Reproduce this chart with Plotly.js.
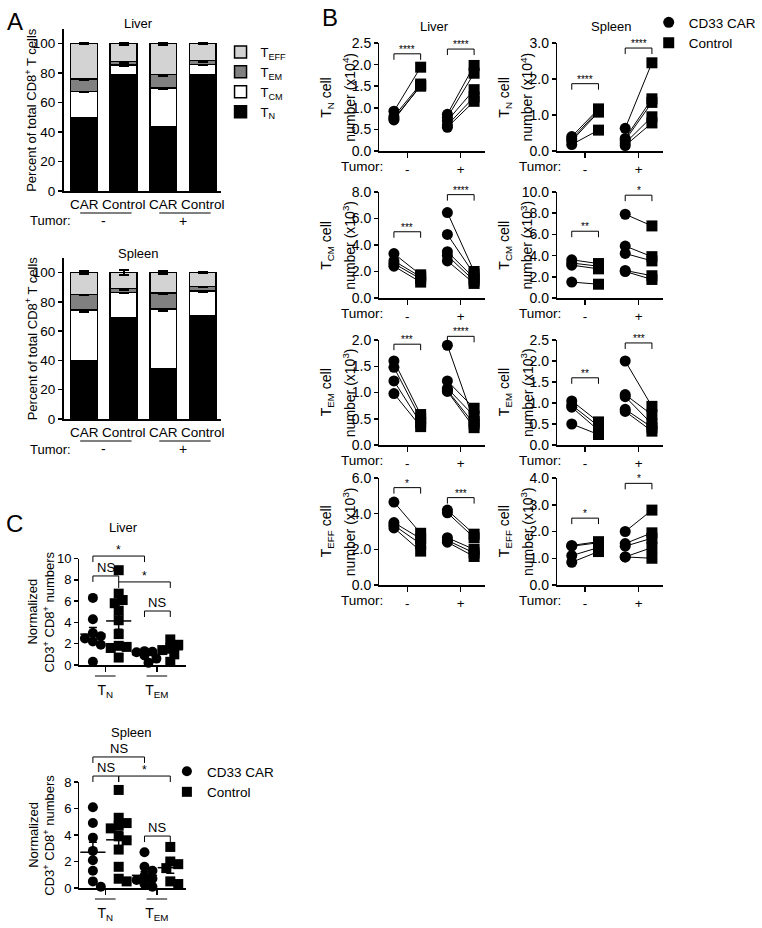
<!DOCTYPE html>
<html><head><meta charset="utf-8">
<script src="https://cdn.plot.ly/plotly-3.0.1.min.js"></script>
<style>html,body{margin:0;padding:0;background:#fff}</style>
</head><body>
<div id="chart" style="width:762px;height:928px"></div>
<script>
// ================= DATA =================
// Panel A: stacked percentages (segment sizes) of CD8+ T-cell subsets
const barCategories = ['CAR', 'Control', 'CAR', 'Control'];
const tumorLabels = ['-', '+'];
const subsetNames = ['T<sub>N</sub>', 'T<sub>CM</sub>', 'T<sub>EM</sub>', 'T<sub>EFF</sub>'];
const subsetColors = ['#000000', '#ffffff', '#808080', '#d3d3d3'];
const liverA_TN   = [50, 79, 43.5, 79];
const liverA_TCM  = [17.5, 6.5, 26.5, 7];
const liverA_TEM  = [8.5, 2.5, 9, 2.5];
const liverA_TEFF = [24, 12, 21, 11.5];
const liverA_errTN = [0.8, 0.8, 0.8, 0.6];
const liverA_errTCM = [0.6, 0.8, 0.8, 0.4];
const liverA_errTEM = [0.8, 0.8, 0.6, 0.6];
const liverA_errTEFF = [0.4, 0.8, 0.6, 0.4];
const spleenA_TN   = [40, 69.5, 34.5, 70.5];
const spleenA_TCM  = [34.5, 17, 40.5, 17];
const spleenA_TEM  = [10.5, 2.5, 11, 3];
const spleenA_TEFF = [15, 11, 14, 9.5];
const spleenA_errTN = [0.4, 0.4, 0.6, 0.3];
const spleenA_errTCM = [1.2, 0.6, 1.2, 0.6];
const spleenA_errTEM = [0.4, 0.8, 0.4, 0.6];
const spleenA_errTEFF = [1.2, 1.5, 0.8, 0.4];

// Panel B: paired cell numbers (CAR vs Control), tumor - and tumor +
const liverTN_negCAR = [0.92, 0.80, 0.75, 0.72];
const liverTN_negCtrl = [1.94, 1.55, 1.50, 1.52];
const liverTN_posCAR = [0.85, 0.78, 0.70, 0.60, 0.55];
const liverTN_posCtrl = [1.98, 1.80, 1.42, 1.25, 1.15];
const spleenTN_negCAR = [0.40, 0.33, 0.28, 0.18];
const spleenTN_negCtrl = [1.17, 1.12, 1.08, 0.58];
const spleenTN_posCAR = [0.63, 0.35, 0.30, 0.22, 0.15];
const spleenTN_posCtrl = [2.45, 1.45, 1.35, 0.95, 0.78];
const liverTCM_negCAR = [3.35, 2.80, 2.60, 2.40];
const liverTCM_negCtrl = [1.75, 1.60, 1.45, 1.20];
const liverTCM_posCAR = [6.45, 4.80, 3.50, 3.20, 2.80];
const liverTCM_posCtrl = [2.00, 1.80, 1.50, 1.30, 1.10];
const spleenTCM_negCAR = [3.60, 3.30, 3.10, 1.50];
const spleenTCM_negCtrl = [3.25, 3.00, 2.75, 1.30];
const spleenTCM_posCAR = [7.90, 4.90, 4.20, 2.60, 2.50];
const spleenTCM_posCtrl = [6.80, 3.90, 3.50, 2.10, 1.75];
const liverTEM_negCAR = [1.60, 1.48, 1.22, 0.98];
const liverTEM_negCtrl = [0.58, 0.50, 0.42, 0.35];
const liverTEM_posCAR = [1.90, 1.22, 1.08, 1.04, 1.02];
const liverTEM_posCtrl = [0.45, 0.70, 0.55, 0.40, 0.33];
const spleenTEM_negCAR = [1.05, 0.95, 0.90, 0.50];
const spleenTEM_negCtrl = [0.55, 0.45, 0.35, 0.25];
const spleenTEM_posCAR = [2.00, 1.20, 1.15, 0.85, 0.80];
const spleenTEM_posCtrl = [0.92, 0.72, 0.50, 0.42, 0.33];
const liverTEFF_negCAR = [4.65, 3.50, 3.35, 3.20];
const liverTEFF_negCtrl = [2.90, 2.60, 2.30, 1.90];
const liverTEFF_posCAR = [4.20, 4.05, 2.65, 2.50, 2.40];
const liverTEFF_posCtrl = [2.85, 2.65, 2.00, 1.80, 1.60];
const spleenTEFF_negCAR = [1.48, 1.45, 1.10, 0.85];
const spleenTEFF_negCtrl = [1.62, 1.58, 1.40, 1.25];
const spleenTEFF_posCAR = [2.00, 1.55, 1.45, 1.05, 1.05];
const spleenTEFF_posCtrl = [2.80, 1.95, 1.75, 1.40, 1.00];
const sigB = {
  liverTN: ['****', '****'], spleenTN: ['****', '****'],
  liverTCM: ['***', '****'], spleenTCM: ['**', '*'],
  liverTEM: ['***', '****'], spleenTEM: ['**', '***'],
  liverTEFF: ['*', '***'], spleenTEFF: ['*', '*']
};

// Panel C: normalized CD3+ CD8+ numbers
const groupLabelsC = ['T<sub>N</sub>', 'T<sub>EM</sub>'];
const liverC_TN_CAR = [6.3, 4.3, 3.0, 2.7, 2.5, 2.2, 1.9, 0.3];
const liverC_TN_Ctrl = [8.9, 6.7, 6.1, 5.8, 5.1, 4.2, 2.9, 1.8, 1.7, 1.6, 0.7];
const liverC_TEM_CAR = [1.3, 1.25, 1.2, 1.2, 1.1, 1.0, 0.9, 0.6, 0.2];
const liverC_TEM_Ctrl = [2.4, 1.9, 1.6, 1.4, 1.0, 0.3];
const spleenC_TN_CAR = [6.1, 4.9, 3.8, 2.8, 2.1, 1.3, 0.5, 0.1];
const spleenC_TN_Ctrl = [7.4, 5.3, 4.9, 4.7, 4.5, 3.9, 3.6, 2.9, 1.6, 0.7, 0.5];
const spleenC_TEM_CAR = [2.7, 1.6, 1.3, 0.9, 0.7, 0.6, 0.4, 0.3, 0.1];
const spleenC_TEM_Ctrl = [3.1, 2.0, 1.8, 1.5, 0.5, 0.3];
const sigC_liver = ['*', 'NS', '*', 'NS'];
const sigC_spleen = ['NS', 'NS', '*', 'NS'];

// ================= LAYOUT HELPERS =================
const W = 762, H = 928;
const FONT = 'Liberation Sans, Arial, Helvetica, sans-serif';
const X = px => px / W, Y = px => 1 - px / H;
const subplots = {};
const layout = {
  width: W, height: H, margin: {l: 0, r: 0, t: 0, b: 0},
  paper_bgcolor: '#fff', plot_bgcolor: 'rgba(0,0,0,0)',
  font: {family: FONT, size: 13, color: '#000'},
  barmode: 'stack', showlegend: true,
  shapes: [], annotations: []
};
const traces = [];

function addSubplot(n, x0, x1, yt, yb, xr, yr, xopts, yopts) {
  subplots[n] = {x0, x1, yt, yb, xr, yr};
  const xs = n === 1 ? '' : n;
  layout['xaxis' + xs] = Object.assign({
    domain: [X(x0), X(x1)], range: xr, anchor: 'y' + xs,
    showline: true, linecolor: '#000', linewidth: 1.5, zeroline: false, showgrid: false,
    ticks: 'outside', ticklen: 5, tickwidth: 1.5, tickcolor: '#000', fixedrange: true,
    tickfont: {size: 14, family: FONT, color: '#000'}
  }, xopts);
  layout['yaxis' + xs] = Object.assign({
    domain: [Y(yb), Y(yt)], range: yr, anchor: 'x' + xs,
    showline: true, linecolor: '#000', linewidth: 1.5, zeroline: false, showgrid: false,
    ticks: 'outside', ticklen: 4, tickwidth: 1.5, tickcolor: '#000', fixedrange: true,
    tickfont: {size: 14, family: FONT, color: '#000'}
  }, yopts);
}
// data coords -> paper coords (for decorations only)
function P(n, x, y) {
  const s = subplots[n];
  const fx = (x - s.xr[0]) / (s.xr[1] - s.xr[0]);
  const fy = (y - s.yr[0]) / (s.yr[1] - s.yr[0]);
  return [(s.x0 + fx * (s.x1 - s.x0)) / W, 1 - (s.yb - fy * (s.yb - s.yt)) / H];
}
function line(x0, y0, x1, y1, w) {
  layout.shapes.push({type: 'line', xref: 'paper', yref: 'paper', x0, y0, x1, y1,
    line: {color: '#000', width: w || 1}});
}
function text(x, y, t, opts) {
  layout.annotations.push(Object.assign({xref: 'paper', yref: 'paper', x, y, text: t,
    showarrow: false, xanchor: 'center', yanchor: 'middle',
    font: {size: 13, family: FONT, color: '#000'}}, opts || {}));
}
function bracket(n, xa, xb, y, label, fsize, shift) {
  const [p0, py] = P(n, xa, y);
  const [p1] = P(n, xb, y);
  const leg = 6 / H;
  line(p0, py, p1, py, 1);
  line(p0, py, p0, py - leg, 1);
  line(p1, py, p1, py - leg, 1);
  text((p0 + p1) / 2, py, label, {yanchor: 'bottom', xanchor: 'center', yshift: shift,
    font: {size: fsize, family: FONT, color: '#000'}});
}

// ================= PANEL A =================
const aSpecs = [
  {n: 1, yt: 29, yb: 191, title: 'Liver', data: [liverA_TN, liverA_TCM, liverA_TEM, liverA_TEFF],
   err: [liverA_errTN, liverA_errTCM, liverA_errTEM, liverA_errTEFF], legend: true},
  {n: 2, yt: 258, yb: 419, title: 'Spleen', data: [spleenA_TN, spleenA_TCM, spleenA_TEM, spleenA_TEFF],
   err: [spleenA_errTN, spleenA_errTCM, spleenA_errTEM, spleenA_errTEFF], legend: false}
];
aSpecs.forEach(s => {
  addSubplot(s.n, 64, 222, s.yt, s.yb, [0.48, 4.45], [0, 110],
    {tickvals: [1, 2, 3, 4], ticktext: barCategories, ticks: '', tickfont: {size: 13.5, family: FONT, color: '#000'}},
    {tickvals: [0, 20, 40, 60, 80, 100], tickfont: {size: 13.5, family: FONT, color: '#000'}});
  const xs = s.n === 1 ? '' : s.n;
  s.data.forEach((vals, i) => {
    traces.push({
      type: 'bar', x: [1, 2, 3, 4], y: vals, xaxis: 'x' + xs, yaxis: 'y' + xs, width: 0.68,
      name: subsetNames[i], legend: 'legend', legendgroup: 'a' + i, showlegend: s.legend,
      marker: {color: subsetColors[i], line: {color: '#000', width: 1.5}},
      error_y: {type: 'data', array: s.err[i], visible: true, color: '#000', thickness: 2, width: 5},
      hoverinfo: 'skip'
    });
  });
  text(X(139), Y(s.yt - 5), s.title);
  text(X(31), Y((s.yt + s.yb) / 2), 'Percent of total CD8<sup>+</sup> T cells', {textangle: -90});
  const ul = Y(s.yb + 22);
  line(P(s.n, 0.9, 0)[0], ul, P(s.n, 2.2, 0)[0], ul, 1);
  line(P(s.n, 2.9, 0)[0], ul, P(s.n, 4.2, 0)[0], ul, 1);
  text(X(73), Y(s.yb + 30), 'Tumor:', {xanchor: 'right'});
  text(P(s.n, 1.5, 0)[0], Y(s.yb + 30), tumorLabels[0], {font: {size: 14, family: FONT, color: '#000'}});
  text(P(s.n, 3.5, 0)[0], Y(s.yb + 30), tumorLabels[1], {font: {size: 14, family: FONT, color: '#000'}});
});
text(X(15), Y(22), 'A', {font: {size: 24, family: FONT, color: '#000'}});

// ================= PANEL B =================
const rowsB = [[43, 151], [192, 298], [340, 445], [478, 585]];
const colsB = [[382, 488], [561, 667]];
const bSpecs = [
  {key: 'liverTN', sub: 'N', exp: 4, top: 2.5, dt: 0.5, d: [liverTN_negCAR, liverTN_negCtrl, liverTN_posCAR, liverTN_posCtrl], lv: [2.25, 2.36]},
  {key: 'spleenTN', sub: 'N', exp: 4, top: 3.0, dt: 1.0, d: [spleenTN_negCAR, spleenTN_negCtrl, spleenTN_posCAR, spleenTN_posCtrl], lv: [1.87, 2.86]},
  {key: 'liverTCM', sub: 'CM', exp: 3, top: 8.0, dt: 2.0, d: [liverTCM_negCAR, liverTCM_negCtrl, liverTCM_posCAR, liverTCM_posCtrl], lv: [5.0, 7.8]},
  {key: 'spleenTCM', sub: 'CM', exp: 3, top: 10.0, dt: 2.0, d: [spleenTCM_negCAR, spleenTCM_negCtrl, spleenTCM_posCAR, spleenTCM_posCtrl], lv: [6.3, 9.7]},
  {key: 'liverTEM', sub: 'EM', exp: 3, top: 2.0, dt: 0.5, d: [liverTEM_negCAR, liverTEM_negCtrl, liverTEM_posCAR, liverTEM_posCtrl], lv: [1.92, 2.07]},
  {key: 'spleenTEM', sub: 'EM', exp: 3, top: 2.5, dt: 0.5, d: [spleenTEM_negCAR, spleenTEM_negCtrl, spleenTEM_posCAR, spleenTEM_posCtrl], lv: [1.6, 2.43]},
  {key: 'liverTEFF', sub: 'EFF', exp: 3, top: 6.0, dt: 2.0, d: [liverTEFF_negCAR, liverTEFF_negCtrl, liverTEFF_posCAR, liverTEFF_posCtrl], lv: [5.46, 4.9]},
  {key: 'spleenTEFF', sub: 'EFF', exp: 3, top: 4.0, dt: 1.0, d: [spleenTEFF_negCAR, spleenTEFF_negCtrl, spleenTEFF_posCAR, spleenTEFF_posCtrl], lv: [2.5, 3.8]}
];
const pairX = [[0.75, 1.25], [1.75, 2.25]];
bSpecs.forEach((s, i) => {
  const n = 3 + i, row = Math.floor(i / 2), col = i % 2;
  const [x0, x1] = colsB[col], [yt, yb] = rowsB[row];
  addSubplot(n, x0, x1, yt, yb, [0.48, 2.45], [0, s.top],
    {tickvals: [1, 2], ticktext: tumorLabels, tickfont: {size: 13.5, family: FONT, color: '#000'}},
    {tick0: 0, dtick: s.dt, tickformat: '.1f'});
  const xa = 'x' + n, ya = 'y' + n;
  const lx = [], ly = [], cx = [], cy = [], qx = [], qy = [];
  [[s.d[0], s.d[1]], [s.d[2], s.d[3]]].forEach((pair, g) => {
    pair[0].forEach((v, k) => {
      lx.push(pairX[g][0], pairX[g][1], null);
      ly.push(v, pair[1][k], null);
      cx.push(pairX[g][0]); cy.push(v);
      qx.push(pairX[g][1]); qy.push(pair[1][k]);
    });
  });
  traces.push({type: 'scatter', mode: 'lines', x: lx, y: ly, xaxis: xa, yaxis: ya,
    line: {color: '#000', width: 1}, showlegend: false, hoverinfo: 'skip', cliponaxis: false});
  traces.push({type: 'scatter', mode: 'markers', x: cx, y: cy, xaxis: xa, yaxis: ya, name: 'CD33 CAR',
    marker: {symbol: 'circle', size: 11, color: '#000'}, legend: 'legend2', legendgroup: 'car',
    showlegend: i === 0, cliponaxis: false, hoverinfo: 'skip'});
  traces.push({type: 'scatter', mode: 'markers', x: qx, y: qy, xaxis: xa, yaxis: ya, name: 'Control',
    marker: {symbol: 'square', size: 11, color: '#000'}, legend: 'legend2', legendgroup: 'ctrl',
    showlegend: i === 0, cliponaxis: false, hoverinfo: 'skip'});
  bracket(n, pairX[0][0], pairX[0][1], s.lv[0], sigB[s.key][0], 10, -3);
  bracket(n, pairX[1][0], pairX[1][1], s.lv[1], sigB[s.key][1], 10, -3);
  const yc = Y((yt + yb) / 2);
  const f14 = {size: 14, family: FONT, color: '#000'};
  text(X(x0 - 53), yc, 'T<sub>' + s.sub + '</sub> cell', {textangle: -90, font: f14});
  text(X(x0 - 31), yc, 'number (x10<sup>' + s.exp + '</sup>)', {textangle: -90, font: f14});
  text(X(x0 + 6), Y(yb + 15), 'Tumor:', {xanchor: 'right', font: {size: 13.5, family: FONT, color: '#000'}});
});
text(X(437), Y(27), 'Liver');
text(X(615), Y(27), 'Spleen');
text(X(332), Y(18), 'B', {font: {size: 24, family: FONT, color: '#000'}});

// ================= PANEL C =================
function swarm(vals, center, pxX, pxY, size) {
  const placed = [];
  const order = vals.map((v, i) => i).sort((a, b) => vals[b] - vals[a]);
  const xs = new Array(vals.length);
  const step = 0.4 * size / pxX;
  order.forEach(i => {
    const cands = [0, 1, -1, 2, -2, 3, -3];
    for (const c of cands) {
      const x = center + c * step;
      const ok = placed.every(p => Math.hypot((p[0] - x) * pxX, (p[1] - vals[i]) * pxY) >= size * 0.75);
      if (ok) { xs[i] = x; placed.push([x, vals[i]]); break; }
    }
    if (xs[i] === undefined) { xs[i] = center; placed.push([center, vals[i]]); }
  });
  return xs;
}
const cSpecs = [
  {n: 11, yt: 558.5, yb: 665, top: 10, title: 'Liver', tY: 527, tX: 124, lY: 523,
   d: [liverC_TN_CAR, liverC_TN_Ctrl, liverC_TEM_CAR, liverC_TEM_Ctrl], sig: sigC_liver,
   lv: [10.23, 8.36, 7.8, 5.07], legend: false},
  {n: 12, yt: 782, yb: 888, top: 8, title: 'Spleen', tY: 732, tX: 132,
   d: [spleenC_TN_CAR, spleenC_TN_Ctrl, spleenC_TEM_CAR, spleenC_TEM_Ctrl], sig: sigC_spleen,
   lv: [9.89, 8.45, 8.45, 3.92], legend: true}
];
const cX = [0.76, 1.26, 1.76, 2.26];
cSpecs.forEach(s => {
  addSubplot(s.n, 80, 187, s.yt, s.yb, [0.5, 2.56], [0, s.top],
    {tickvals: [1, 2], ticktext: groupLabelsC, ticklabelstandoff: 7},
    {tick0: 0, dtick: 2, tickfont: {size: 13, family: FONT, color: '#000'}});
  const xa = 'x' + s.n, ya = 'y' + s.n;
  const pxX = (187 - 80) / 2.06, pxY = (s.yb - s.yt) / s.top;
  s.d.forEach((vals, g) => {
    const isCar = g % 2 === 0;
    const xs = swarm(vals, cX[g], pxX, pxY, 10);
    traces.push({type: 'scatter', mode: 'markers', x: xs, y: vals, xaxis: xa, yaxis: ya,
      name: isCar ? 'CD33 CAR' : 'Control', legend: 'legend3', legendgroup: isCar ? 'ccar' : 'cctrl',
      showlegend: s.legend && g < 2, cliponaxis: false, hoverinfo: 'skip',
      marker: {symbol: isCar ? 'circle' : 'square', size: 10, color: '#000'}});
    const mean = vals.reduce((a, b) => a + b, 0) / vals.length;
    const sd = Math.sqrt(vals.reduce((a, b) => a + (b - mean) ** 2, 0) / (vals.length - 1));
    const sem = sd / Math.sqrt(vals.length);
    traces.push({type: 'scatter', mode: 'markers', x: [cX[g]], y: [mean], xaxis: xa, yaxis: ya,
      showlegend: false, hoverinfo: 'skip', cliponaxis: false,
      marker: {symbol: 'line-ew', size: 18, color: '#000', line: {color: '#000', width: 1.5}},
      error_y: {type: 'data', array: [sem], visible: true, color: '#000', thickness: 1.5, width: 4}});
  });
  const pairs = [[0, 2], [0, 1], [1, 3], [2, 3]];
  pairs.forEach((p, k) => {
    const ns = s.sig[k] === 'NS';
    bracket(s.n, cX[p[0]], cX[p[1]], s.lv[k], s.sig[k], ns ? 13 : 12, ns ? -1 : -3);
  });
  const ul = Y(s.yb + 11);
  line(P(s.n, 0.8, 0)[0], ul, P(s.n, 1.2, 0)[0], ul, 1);
  line(P(s.n, 1.8, 0)[0], ul, P(s.n, 2.2, 0)[0], ul, 1);
  text(X(s.tX), Y(s.tY), s.title);
  if (s.lY) text(X(15), Y(s.lY), 'C', {font: {size: 24, family: FONT, color: '#000'}});
  const yc = Y((s.yt + s.yb) / 2);
  text(X(33), yc, 'Normalized', {textangle: -90});
  text(X(49), yc, 'CD3<sup>+</sup> CD8<sup>+</sup> numbers', {textangle: -90});
});

// ================= LEGENDS =================
layout.legend = {x: X(222), y: Y(37), xanchor: 'left', yanchor: 'top', traceorder: 'reversed',
  bgcolor: 'rgba(0,0,0,0)', font: {size: 13, family: FONT, color: '#000'}, itemclick: false, itemdoubleclick: false};
layout.legend2 = {x: X(653), y: Y(7), xanchor: 'left', yanchor: 'top', traceorder: 'normal',
  bgcolor: 'rgba(0,0,0,0)', font: {size: 13.5, family: FONT, color: '#000'}, itemclick: false, itemdoubleclick: false};
layout.legend3 = {x: X(168), y: Y(756), xanchor: 'left', yanchor: 'top', traceorder: 'normal',
  bgcolor: 'rgba(0,0,0,0)', font: {size: 13.5, family: FONT, color: '#000'}, itemclick: false, itemdoubleclick: false};

Plotly.newPlot('chart', traces, layout, {staticPlot: true, displayModeBar: false});
</script>
</body></html>
